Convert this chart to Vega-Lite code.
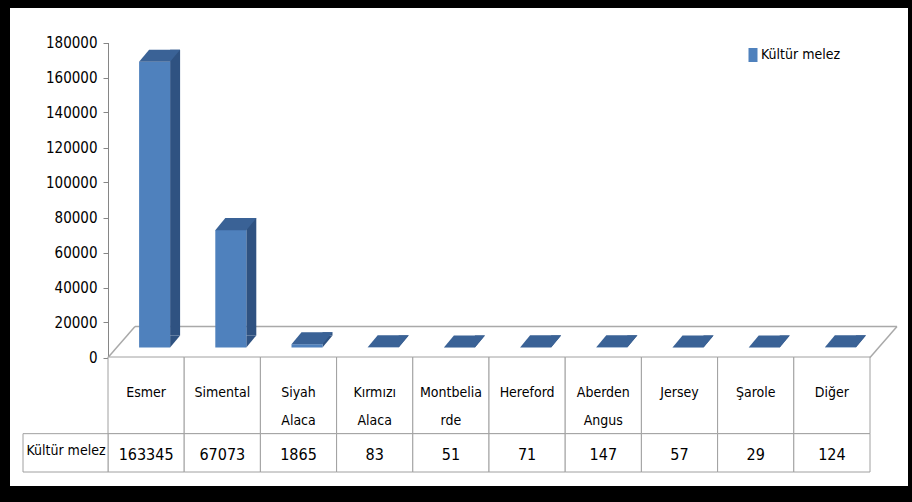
{
  "$schema": "https://vega.github.io/schema/vega-lite/v6.json",
  "width": 898,
  "height": 478,
  "autosize": {"type": "none"},
  "padding": {"left": 10, "top": 8, "right": 4, "bottom": 16},
  "background": "#000000",
  "config": {
    "view": {"fill": "#ffffff", "stroke": null},
    "font": "DejaVu Sans Condensed, sans-serif"
  },
  "datasets": {
    "breeds": [
      {"breed": "Esmer", "label": "Esmer", "value": 163345},
      {"breed": "Simental", "label": "Simental", "value": 67073},
      {"breed": "Siyah Alaca", "label": "Siyah\nAlaca", "value": 1865},
      {"breed": "Kırmızı Alaca", "label": "Kırmızı\nAlaca", "value": 83},
      {"breed": "Montbeliarde", "label": "Montbelia\nrde", "value": 51},
      {"breed": "Hereford", "label": "Hereford", "value": 71},
      {"breed": "Aberden Angus", "label": "Aberden\nAngus", "value": 147},
      {"breed": "Jersey", "label": "Jersey", "value": 57},
      {"breed": "Şarole", "label": "Şarole", "value": 29},
      {"breed": "Diğer", "label": "Diğer", "value": 124}
    ],
    "series": [{"series": "Kültür melez"}]
  },
  "data": {"name": "breeds"},
  "resolve": {"scale": {"y": "independent"}, "axis": {"y": "independent"}},
  "layer": [
    {
      "layer": [
        {
          "data": {"name": "series"},
          "mark": {"type": "rule", "color": "#A9A9A9", "strokeWidth": 1.5, "xOffset": 27, "x2Offset": 27, "yOffset": -31},
          "encoding": {
            "x": {"datum": "Esmer", "type": "nominal", "bandPosition": 0,
              "scale": {"type": "band", "domain": ["Esmer", "Simental", "Siyah Alaca", "Kırmızı Alaca", "Montbeliarde", "Hereford", "Aberden Angus", "Jersey", "Şarole", "Diğer"], "range": [98, 860], "paddingInner": 0, "paddingOuter": 0},
              "axis": null},
            "x2": {"datum": "Diğer", "bandPosition": 1},
            "y": {"datum": 0, "type": "quantitative",
              "scale": {"domain": [0, 180000], "range": [349.5, 34.5], "nice": false, "zero": true},
              "axis": {"orient": "left", "offset": -98, "values": [0, 20000, 40000, 60000, 80000, 100000, 120000, 140000, 160000, 180000], "format": "d", "title": null, "grid": false, "domainColor": "#868686", "tickColor": "#868686", "tickSize": 5, "labelPadding": 6, "labelFontSize": 15, "labelColor": "#000000", "labelFont": "DejaVu Sans Condensed, sans-serif"}}
          }
        },
        {
          "data": {"name": "series"},
          "mark": {"type": "rule", "color": "#A9A9A9", "strokeWidth": 1.5, "x2Offset": 27, "y2Offset": -31},
          "encoding": {
            "x": {"datum": "Esmer", "type": "nominal", "bandPosition": 0},
            "x2": {"datum": "Esmer", "bandPosition": 0},
            "y": {"datum": 0, "type": "quantitative"},
            "y2": {"datum": 0}
          }
        },
        {
          "data": {"name": "series"},
          "mark": {"type": "rule", "color": "#A9A9A9", "strokeWidth": 1.5, "x2Offset": 27, "y2Offset": -31},
          "encoding": {
            "x": {"datum": "Diğer", "type": "nominal", "bandPosition": 1},
            "x2": {"datum": "Diğer", "bandPosition": 1},
            "y": {"datum": 0, "type": "quantitative"},
            "y2": {"datum": 0}
          }
        },
        {
          "mark": {"type": "bar", "color": "#2F5281", "width": 10, "xOffset": 29, "yOffset": -22, "y2Offset": -22},
          "encoding": {
            "x": {"field": "breed", "type": "nominal"},
            "y": {"field": "value", "type": "quantitative"},
            "y2": {"datum": 0}
          }
        },
        {
          "mark": {"type": "point", "filled": true, "opacity": 1, "strokeWidth": 0, "color": "#2F5281", "size": 1681, "xOffset": 29, "yOffset": -16,
            "shape": "M-0.244,-0.293L-0.244,0.293L0.244,-0.293Z"},
          "encoding": {
            "x": {"field": "breed", "type": "nominal"},
            "y": {"datum": 0, "type": "quantitative"}
          }
        },
        {
          "mark": {"type": "bar", "width": 31, "xOffset": 8.5, "yOffset": -10, "y2Offset": -10},
          "encoding": {
            "x": {"field": "breed", "type": "nominal"},
            "y": {"field": "value", "type": "quantitative"},
            "y2": {"datum": 0},
            "color": {"datum": "Kültür melez", "type": "nominal",
              "scale": {"range": ["#4F81BD"]},
              "legend": {"orient": "none", "legendX": 736, "legendY": 40, "title": null, "padding": 0,
                "symbolType": "M-0.643,-1H0.643V1H-0.643Z", "symbolSize": 196, "symbolStrokeWidth": 0,
                "labelFontSize": 14, "labelColor": "#000000", "labelOffset": 1,
                "labelFont": "DejaVu Sans Condensed, sans-serif"}}
          }
        },
        {
          "mark": {"type": "point", "filled": true, "opacity": 1, "strokeWidth": 0, "color": "#3A6296", "size": 1681, "xOffset": 13.5, "yOffset": -16,
            "shape": "M-1,0.293L0.512,0.293L1,-0.293L-0.512,-0.293Z"},
          "encoding": {
            "x": {"field": "breed", "type": "nominal"},
            "y": {"field": "value", "type": "quantitative"}
          }
        }
      ]
    },
    {
      "layer": [
        {
          "mark": {"type": "rect", "fill": "#ffffff", "stroke": "#A0A0A0", "strokeWidth": 1},
          "encoding": {
            "x": {"field": "breed", "type": "nominal"},
            "y": {"datum": 0, "type": "quantitative", "scale": {"domain": [0, 3], "range": [349, 464], "nice": false, "zero": false}, "axis": null},
            "y2": {"datum": 2}
          }
        },
        {
          "mark": {"type": "text", "lineBreak": "\n", "lineHeight": 28, "baseline": "alphabetic", "align": "center", "dy": 40, "fontSize": 14, "color": "#000000"},
          "encoding": {
            "x": {"field": "breed", "type": "nominal"},
            "y": {"datum": 0, "type": "quantitative"},
            "text": {"field": "label"}
          }
        },
        {
          "mark": {"type": "rect", "fill": "#ffffff", "stroke": "#A0A0A0", "strokeWidth": 1},
          "encoding": {
            "x": {"field": "breed", "type": "nominal"},
            "y": {"datum": 2, "type": "quantitative"},
            "y2": {"datum": 3}
          }
        },
        {
          "mark": {"type": "text", "baseline": "alphabetic", "align": "center", "dy": 26, "fontSize": 16, "color": "#000000"},
          "encoding": {
            "x": {"field": "breed", "type": "nominal"},
            "y": {"datum": 2, "type": "quantitative"},
            "text": {"field": "value", "type": "quantitative", "format": "d"}
          }
        },
        {
          "data": {"name": "series"},
          "mark": {"type": "rect", "fill": "#ffffff", "stroke": "#A0A0A0", "strokeWidth": 1, "xOffset": -85, "x2Offset": 0},
          "encoding": {
            "x": {"datum": "Esmer", "type": "nominal", "bandPosition": 0},
            "x2": {"datum": "Esmer", "bandPosition": 0},
            "y": {"datum": 2, "type": "quantitative"},
            "y2": {"datum": 3}
          }
        },
        {
          "data": {"name": "series"},
          "mark": {"type": "text", "baseline": "alphabetic", "align": "center", "dx": -42, "dy": 21, "fontSize": 14, "color": "#000000"},
          "encoding": {
            "x": {"datum": "Esmer", "type": "nominal", "bandPosition": 0},
            "y": {"datum": 2, "type": "quantitative"},
            "text": {"field": "series"}
          }
        }
      ]
    }
  ]
}
